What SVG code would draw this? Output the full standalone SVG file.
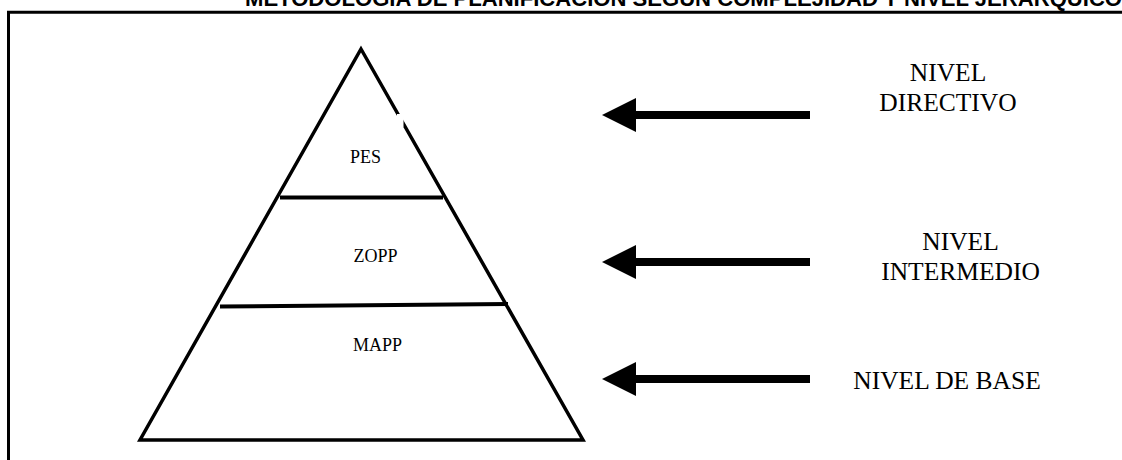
<svg xmlns="http://www.w3.org/2000/svg" width="1122" height="460" viewBox="0 0 1122 460">
<style>
.title{font-family:"Liberation Sans",Arial,sans-serif;font-weight:bold;font-size:22px;fill:#000}
.lbl{font-family:"Liberation Serif","Times New Roman",serif;font-size:18px;fill:#000;text-anchor:middle}
.lvl{font-family:"Liberation Serif","Times New Roman",serif;font-size:25.5px;fill:#000;text-anchor:middle}
.edge{fill:none;stroke:#000;stroke-width:3.5;stroke-linejoin:miter}
.div{stroke:#000;stroke-width:4;fill:none}
.arrow{stroke:#000;stroke-width:8;fill:none;marker-end:url(#head)}
</style>
<defs>
<marker id="head" markerUnits="userSpaceOnUse" viewBox="0 0 34 34" markerWidth="34" markerHeight="34" refX="1" refY="17" orient="auto">
<path d="M0,0 L34,17 L0,34 Z" fill="#000"/>
</marker>
</defs>
<rect width="1122" height="460" fill="#fff"/>
<g id="title">
<text class="title" x="245" y="6" textLength="877" lengthAdjust="spacingAndGlyphs">METODOLOGIA DE PLANIFICACION SEGÚN COMPLEJIDAD Y NIVEL JERARQUICO</text>
</g>
<g id="frame">
<path d="M8.5,460 V12.3 H1122" fill="none" stroke="#000" stroke-width="3"/>
</g>
<g id="pyramid">
<polygon class="edge" points="361,49 583,440 140,440"/>
<rect x="397" y="114" width="6.5" height="13" fill="#fff"/>
</g>
<g id="pes">
<line class="div" x1="280" y1="197.5" x2="443" y2="197.5"/>
<text class="lbl" x="365.5" y="163">PES</text>
</g>
<g id="zopp">
<line class="div" x1="220" y1="306.5" x2="508" y2="304"/>
<text class="lbl" x="375.5" y="262">ZOPP</text>
</g>
<g id="mapp">
<text class="lbl" x="377.5" y="351">MAPP</text>
</g>
<g id="nivel-directivo">
<text class="lvl" x="948" y="81">NIVEL</text>
<text class="lvl" x="948" y="111">DIRECTIVO</text>
</g>
<g id="nivel-intermedio">
<text class="lvl" x="960.5" y="249.5">NIVEL</text>
<text class="lvl" x="960.5" y="280">INTERMEDIO</text>
</g>
<g id="nivel-base">
<text class="lvl" x="947" y="388.5">NIVEL DE BASE</text>
</g>
<g id="connectors">
<line class="arrow" x1="810" y1="115" x2="635" y2="115"/>
<line class="arrow" x1="810" y1="262" x2="635" y2="262"/>
<line class="arrow" x1="810" y1="379" x2="635" y2="379"/>
</g>
</svg>
